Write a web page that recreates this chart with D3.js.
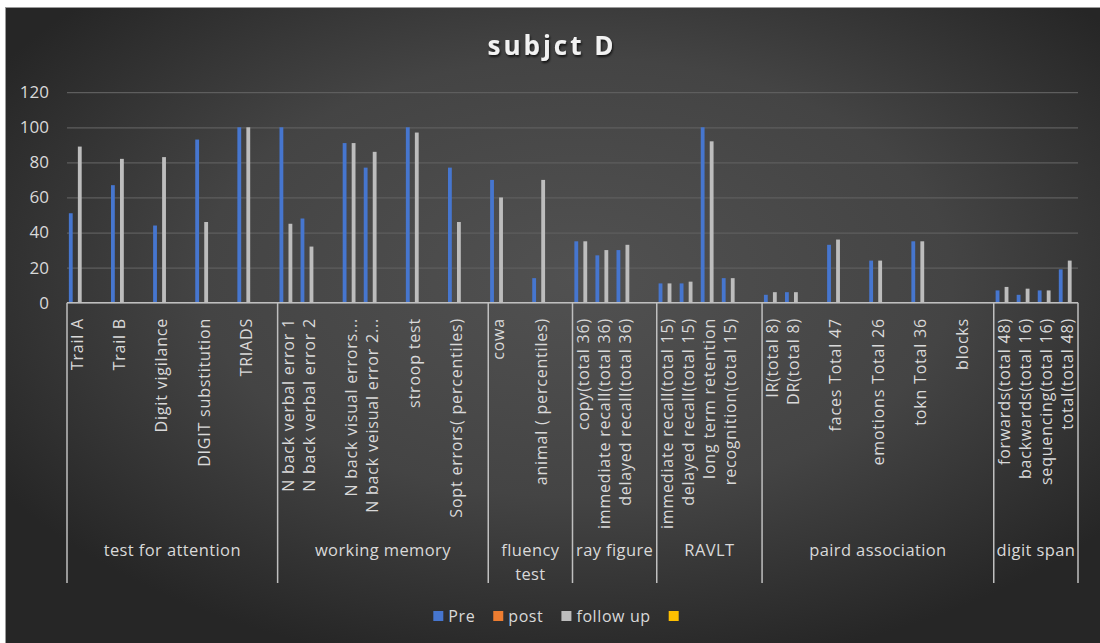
<!DOCTYPE html>
<html>
<head>
<meta charset="utf-8">
<script src="https://cdn.jsdelivr.net/npm/d3@7/dist/d3.min.js"></script>
<style>
  html, body { margin: 0; padding: 0; background: #ffffff; }
  svg { display: block; }
  text { font-family: "Open Sans", "Noto Sans", sans-serif; }
</style>
</head>
<body>
<svg id="chart" width="1100" height="643"></svg>
<script>
// ---- data ------------------------------------------------------------
const title = "subjct D";

// one slot per category; empty strings are spacer slots between tests
const categories = [
  "Trail A", "", "Trail B", "", "Digit vigilance", "", "DIGIT substitution", "", "TRIADS", "",
  "N back verbal error 1", "N back verbal error 2", "", "N back visual  errors...", "N back veisual error 2...", "", "stroop test", "", "Sopt errors( percentiles)", "",
  "cowa", "", "animal ( percentiles)", "",
  "copy(total 36)", "immediate recall(total 36)", "delayed recall(total 36)", "",
  "immediate recall(total 15)", "delayed recall(total 15)", "long term retention", "recognition(total 15)", "",
  "IR(total 8)", "DR(total 8)", "", "faces Total 47", "", "emotions Total 26", "", "tokn Total 36", "", "blocks", "",
  "forwards(total 48)", "backwards(total 16)", "sequencing(total 16)", "total(total 48)"
];

const groupNames = ["test for attention", "working memory", "fluency test", "ray figure", "RAVLT", "paird association", "digit span"];
const groupSizes = [10, 10, 4, 4, 5, 11, 4];

const seriesNames = ["Pre", "post", "follow up", ""];
const seriesColors = ["#4676cf", "#ed7d31", "#bdbdbd", "#ffc000"];

const preValues = [
  51, 0, 67, 0, 44, 0, 93, 0, 100, 0,
  100, 48, 0, 91, 77, 0, 100, 0, 77, 0,
  70, 0, 14, 0,
  35, 27, 30, 0,
  11, 11, 100, 14, 0,
  4.5, 6, 0, 33, 0, 24, 0, 35, 0, 0, 0,
  7, 4.5, 7, 19
];
const postValues = categories.map(() => 0);
const followUpValues = [
  89, 0, 82, 0, 83, 0, 46, 0, 100, 0,
  45, 32, 0, 91, 86, 0, 97, 0, 46, 0,
  60, 0, 70, 0,
  35, 30, 33, 0,
  11, 12, 92, 14, 0,
  6, 6, 0, 36, 0, 24, 0, 35, 0, 0, 0,
  9, 8, 7, 24
];
const fourthValues = categories.map(() => 0);
const seriesValues = [preValues, postValues, followUpValues, fourthValues];

const yTicks = [0, 20, 40, 60, 80, 100, 120];

// ---- layout ----------------------------------------------------------
const W = 1100, H = 643;
const plot = { left: 67, right: 1078, top: 92.2, bottom: 302.7 };
const svg = d3.select("#chart");
const defs = svg.append("defs");

const bg = defs.append("radialGradient").attr("id", "bgGrad")
  .attr("cx", "52%").attr("cy", "42%").attr("r", "62%");
bg.append("stop").attr("offset", "0%").attr("stop-color", "#515151");
bg.append("stop").attr("offset", "55%").attr("stop-color", "#444444");
bg.append("stop").attr("offset", "100%").attr("stop-color", "#262626");

const shadow = defs.append("filter").attr("id", "titleShadow")
  .attr("x", "-10%").attr("y", "-30%").attr("width", "120%").attr("height", "160%");
shadow.append("feDropShadow").attr("dx", 1).attr("dy", 2).attr("stdDeviation", 1.2)
  .attr("flood-color", "#000").attr("flood-opacity", 0.7);

svg.append("rect").attr("x", 5.5).attr("y", 7.5).attr("width", W).attr("height", H)
  .attr("fill", "url(#bgGrad)").attr("stroke", "#9a9a9a").attr("stroke-width", 1);

// ---- scales ----------------------------------------------------------
const idx = d3.range(categories.length);
const x0 = d3.scaleBand().domain(idx).range([plot.left, plot.right]).paddingInner(0).paddingOuter(0);
const x1 = d3.scaleBand().domain(d3.range(seriesNames.length)).range([0, x0.bandwidth()])
  .paddingInner(0).paddingOuter(0.34);
const y = d3.scaleLinear().domain([0, 120]).range([plot.bottom, plot.top]);

// ---- grid + y axis ---------------------------------------------------
const yAxis = d3.axisLeft(y).tickValues(yTicks).tickSize(-(plot.right - plot.left)).tickPadding(18);
const gy = svg.append("g").attr("transform", `translate(${plot.left},0)`).call(yAxis);
gy.select(".domain").remove();
gy.selectAll(".tick line").attr("stroke", "#5e5e5e").attr("stroke-width", 1.2);
gy.selectAll(".tick text").attr("fill", "#d9d9d9").attr("font-size", 17)
  .attr("font-family", "'Open Sans', sans-serif");

// ---- bars ------------------------------------------------------------
const barW = x1.bandwidth() * 0.85;
seriesValues.forEach((vals, s) => {
  svg.append("g").selectAll("rect")
    .data(vals.map((v, i) => ({ i, v })).filter(d => d.v > 0))
    .join("rect")
    .attr("x", d => x0(d.i) + x1(s) + (x1.bandwidth() - barW) / 2)
    .attr("width", barW)
    .attr("y", d => y(d.v))
    .attr("height", d => y(0) - y(d.v))
    .attr("fill", seriesColors[s]);
});

// ---- category axis (two levels) -------------------------------------
const axisColor = "#bfbfbf";
const labelBottom = 583;
svg.append("line").attr("x1", plot.left).attr("x2", plot.right)
  .attr("y1", plot.bottom).attr("y2", plot.bottom)
  .attr("stroke", axisColor).attr("stroke-width", 1.5);

// group separators
const bounds = [0];
groupSizes.forEach(n => bounds.push(bounds[bounds.length - 1] + n));
const edgeX = b => (b >= categories.length ? plot.right : x0(b));
svg.append("g").selectAll("line").data(bounds).join("line")
  .attr("x1", b => edgeX(b)).attr("x2", b => edgeX(b))
  .attr("y1", plot.bottom).attr("y2", labelBottom)
  .attr("stroke", axisColor).attr("stroke-width", 1.5);

// category labels, rotated
svg.append("g").selectAll("text").data(idx.filter(i => categories[i] !== "")).join("text")
  .attr("transform", i => `translate(${x0(i) + x0.bandwidth() / 2},318) rotate(-90)`)
  .attr("text-anchor", "end")
  .attr("dy", "0.35em")
  .attr("fill", "#d9d9d9")
  .attr("font-size", 16)
  .attr("letter-spacing", 0.8)
  .text(i => categories[i]);

// group labels
groupNames.forEach((name, g) => {
  const cx = (edgeX(bounds[g]) + edgeX(bounds[g + 1])) / 2;
  const span = edgeX(bounds[g + 1]) - edgeX(bounds[g]);
  const t = svg.append("text").attr("x", cx).attr("y", 556)
    .attr("text-anchor", "middle").attr("fill", "#d9d9d9")
    .attr("font-size", 16.5).attr("letter-spacing", 0.4).text(name);
  if (t.node().getComputedTextLength() > span - 4) {
    const words = name.split(" ");
    t.text(null);
    words.forEach((w, k) => t.append("tspan").attr("x", cx).attr("dy", k ? 24 : 0).text(w));
  }
});

// ---- title -----------------------------------------------------------
svg.append("text").attr("x", 552).attr("y", 55).attr("text-anchor", "middle")
  .attr("fill", "#f2f2f2").attr("font-size", 26).attr("font-weight", 700)
  .attr("letter-spacing", 3).attr("filter", "url(#titleShadow)").text(title);

// ---- legend ----------------------------------------------------------
const legend = svg.append("g");
let lx = 0;
seriesNames.forEach((name, s) => {
  const item = legend.append("g").attr("transform", `translate(${lx},0)`);
  item.append("rect").attr("x", 0).attr("y", -5).attr("width", 10).attr("height", 10)
    .attr("fill", seriesColors[s]);
  const t = item.append("text").attr("x", 15).attr("y", 0).attr("dy", "0.35em")
    .attr("fill", "#d9d9d9").attr("font-size", 16).attr("letter-spacing", 0.6).text(name);
  const tw = name ? t.node().getComputedTextLength() : 0;
  lx += 15 + tw + 18;
});
const legendW = lx - 18 - 5;
legend.attr("transform", `translate(${556 - legendW / 2},616)`);
</script>
</body>
</html>
